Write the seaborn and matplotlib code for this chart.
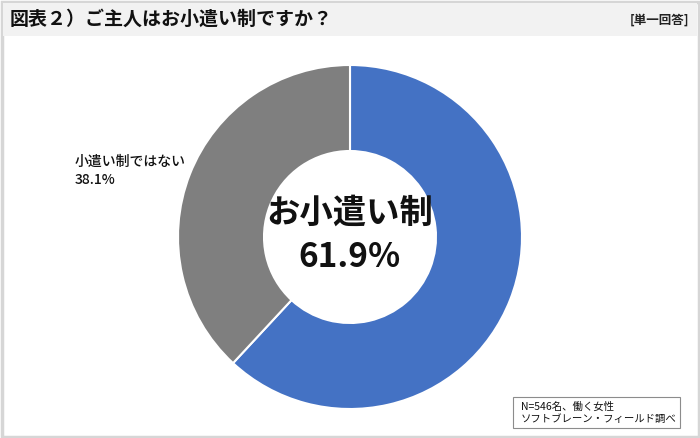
import matplotlib
matplotlib.use("Agg")
import matplotlib.pyplot as plt
import seaborn as sns
from matplotlib.patches import Rectangle

categories = ["お小遣い制", "小遣い制ではない"]
values = [61.9, 38.1]
colors = ["#4472C4", "#7F7F7F"]
title = "図表２）ご主人はお小遣い制ですか？"
answer_type = "[単一回答]"
note = "N=546名、働く女性\nソフトブレーン・フィールド調べ"

sns.set_theme(style="white")
plt.rcParams["font.family"] = ["Noto Sans CJK JP", "DejaVu Sans"]

W, H = 700, 438
fig = plt.figure(figsize=(7, 4.38), dpi=100)
fig.patch.set_facecolor("white")

# background frame and header band
bg = fig.add_axes([0, 0, 1, 1])
bg.set_xlim(0, W)
bg.set_ylim(H, 0)
bg.axis("off")
bg.add_patch(Rectangle((1.5, 1.5), W - 3, H - 3, facecolor="white", edgecolor="#d6d6d6", lw=2.5))
bg.add_patch(Rectangle((3, 3), W - 6, 33, facecolor="#f2f2f2", edgecolor="none"))
bg.text(10, 19, title, fontsize=13.7, fontweight="bold", va="center", ha="left", color="#111111")
bg.text(689, 20, answer_type, fontsize=9, fontweight="bold", va="center", ha="right", color="#222222")
bg.add_patch(Rectangle((513, 397), 167, 31, facecolor="white", edgecolor="#8c8c8c", lw=0.8))
bg.text(521, 412.5, note, fontsize=7.5, va="center", ha="left", color="#111111", linespacing=1.25)
bg.text(75, 171, f"{categories[1]}\n{values[1]}%", fontsize=10, va="center", ha="left",
        color="#111111", linespacing=1.3, fontweight="medium")

# donut
cx, cy, r = 350, 237, 172
ax = fig.add_axes([(cx - r) / W, 1 - (cy + r) / H, 2 * r / W, 2 * r / H])
ax.pie(values, colors=colors, startangle=90, counterclock=False,
       wedgeprops=dict(width=0.5, edgecolor="white", linewidth=1.5))
ax.set_xlim(-1, 1)
ax.set_ylim(-1, 1)
ax.set_aspect("auto")
ax.axis("off")
ax.text(0, 0.14, categories[0], fontsize=24, fontweight="bold", ha="center", va="center", color="#111111")
ax.text(0, -0.12, f"{values[0]}%", fontsize=24, fontweight="bold", ha="center", va="center", color="#111111")

fig.savefig("out.png", dpi=100)
